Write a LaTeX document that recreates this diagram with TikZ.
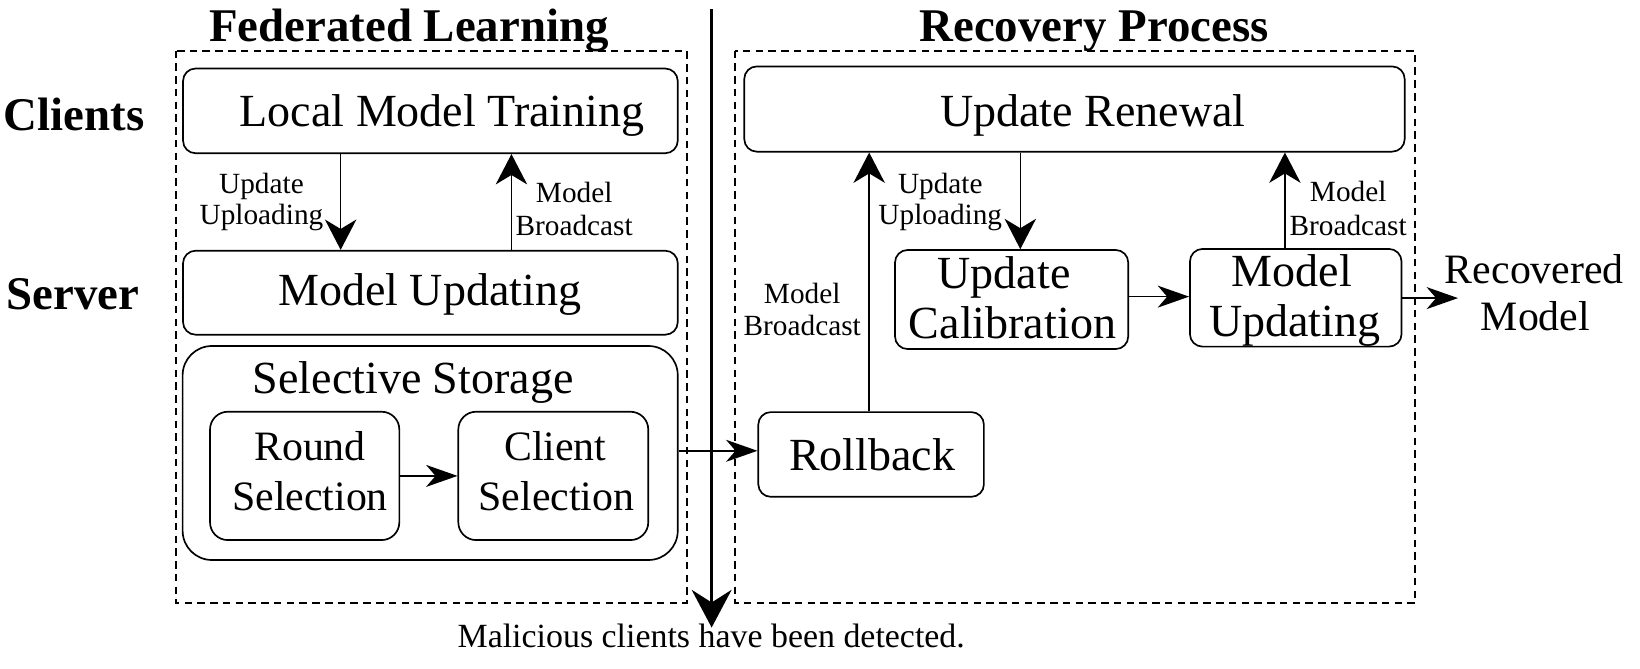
\documentclass[tikz,border=0pt]{standalone}
\usepackage{fontspec}
\setmainfont{Liberation Serif}
\usetikzlibrary{arrows.meta}
\begin{document}
\begin{tikzpicture}[x=0.5pt,y=-0.5pt,
  box/.style={draw, line width=0.8pt, rounded corners=6pt, inner sep=0pt},
  dbox/.style={draw, line width=0.9pt, dash pattern=on 3.6pt off 2.5pt},
  txt/.style={inner sep=0pt, anchor=base},
  fmain/.style={font=\fontsize{22}{26}\selectfont},
  fsel/.style={font=\fontsize{20}{24}\selectfont},
  fsmall/.style={font=\fontsize{14}{17}\selectfont},
  ftitle/.style={font=\fontsize{22.4}{27}\selectfont\bfseries},
  varrow/.style={line width=0.75pt, -{Stealth[length=14.5pt,width=15pt,inset=4.5pt]}},
  harrow/.style={line width=0.75pt, -{Stealth[length=15pt,width=10.5pt,inset=4.5pt]}},
  bigarrow/.style={line width=1.4pt, -{Stealth[length=18pt,width=19pt,inset=6pt]}}
]
\useasboundingbox (0,0) rectangle (1568,639);

% dashed frames
\draw[dbox] (168,48.4) rectangle (656.5,576.7);
\draw[dbox] (702.7,48.4) rectangle (1353,576.7);

% titles
\node[txt,ftitle] (tfl) at (391,40) {Federated Learning};
\node[txt,ftitle] (trp) at (1046,40) {Recovery Process};
\node[txt,ftitle] (tcl) at (71,125) {Clients};
\node[txt,ftitle] (tsv) at (70,296) {Server};

% boxes
\node[box, minimum width=236.5pt, minimum height=40.5pt] (lmt) at (411.5,106) {};
\node[box, minimum width=236.5pt, minimum height=40.15pt] (mu1) at (411.5,279.85) {};
\node[box, rounded corners=14pt, minimum width=236.7pt, minimum height=102.3pt] (ss) at (411.3,433.1) {};
\node[box, rounded corners=8.5pt, minimum width=90.5pt, minimum height=61.35pt] (rs) at (291.3,455) {};
\node[box, rounded corners=8.5pt, minimum width=90.8pt, minimum height=61.35pt] (cs) at (529,455) {};
\node[box, minimum width=107.85pt, minimum height=40.5pt] (rb) at (832.85,434.5) {};
\node[box, minimum width=315.7pt, minimum height=40.75pt] (ur) at (1027.3,104.25) {};
\node[box, minimum width=111.5pt, minimum height=47.35pt] (uc) at (967.2,286.35) {};
\node[box, minimum width=101.15pt, minimum height=46.7pt] (mu2) at (1238.85,284.7) {};

% box texts
\node[txt,fmain] at (422.7,121) {Local Model Training};
\node[txt,fmain] at (410.8,291.6) {Model Updating};
\node[txt,fmain] at (395,375.9) {Selective Storage};
\node[txt,fsel] at (296.4,439.8) {Round};
\node[txt,fsel] at (296.4,487.6) {Selection};
\node[txt,fsel] at (531,439.8) {Client};
\node[txt,fsel] at (532,487.6) {Selection};
\node[txt,fmain] at (834,450) {Rollback};
\node[txt,fmain] at (1045,121) {Update Renewal};
\node[txt,fmain] at (960,275.7) {Update};
\node[txt,fmain] at (968,323.5) {Calibration};
\node[txt,fmain] at (1235,274) {Model};
\node[txt,fmain] at (1238,322) {Updating};

% recovered model
\node[txt,fsel] (rec1) at (1467,270.6) {Recovered};
\node[txt,fsel] (rec2) at (1468,315.5) {Model};

% edge labels
\node[txt,fsmall] at (250,184.6) {Update};
\node[txt,fsmall] at (250,215) {Uploading};
\node[txt,fsmall] at (549,194) {Model};
\node[txt,fsmall] at (549,224.7) {Broadcast};
\node[txt,fsmall] at (767,290) {Model};
\node[txt,fsmall] at (767,321) {Broadcast};
\node[txt,fsmall] at (899,184.8) {Update};
\node[txt,fsmall] at (899,215) {Uploading};
\node[txt,fsmall] at (1289,192.8) {Model};
\node[txt,fsmall] at (1289,224.7) {Broadcast};

% bottom text
\node[txt,font=\fontsize{16.2}{19}\selectfont] (mal) at (680,619.5) {Malicious clients have been detected.};

% helper coordinates
\coordinate (xd1) at (325.7,0);
\coordinate (xu1) at (489,0);
\coordinate (xv1) at (831,0);
\coordinate (xv2) at (975.5,0);
\coordinate (xv3) at (1228.5,0);
\coordinate (yh1) at (0,431);
\coordinate (yh2) at (0,283.6);
\coordinate (yh3) at (0,285);
\coordinate (rtip) at (1394,285);
\coordinate (ltop) at (680.4,9);
\coordinate (lbot) at (680.4,600);

% connectors
\draw[varrow] (xd1 |- lmt.south) -- (xd1 |- mu1.north);
\draw[varrow] (xu1 |- mu1.north) -- (xu1 |- lmt.south);
\draw[harrow] (rs.east) -- (cs.west);
\draw[harrow] (ss.east |- yh1) -- (rb.west |- yh1);
\draw[varrow] (xv1 |- rb.north) -- (xv1 |- ur.south);
\draw[varrow] (xv2 |- ur.south) -- (xv2 |- uc.north);
\draw[harrow] (uc.east |- yh2) -- (mu2.west |- yh2);
\draw[varrow] (xv3 |- mu2.north) -- (xv3 |- ur.south);
\draw[harrow] (mu2.east |- yh3) -- (rtip);
\draw[bigarrow] (ltop) -- (lbot);
\end{tikzpicture}
\end{document}
